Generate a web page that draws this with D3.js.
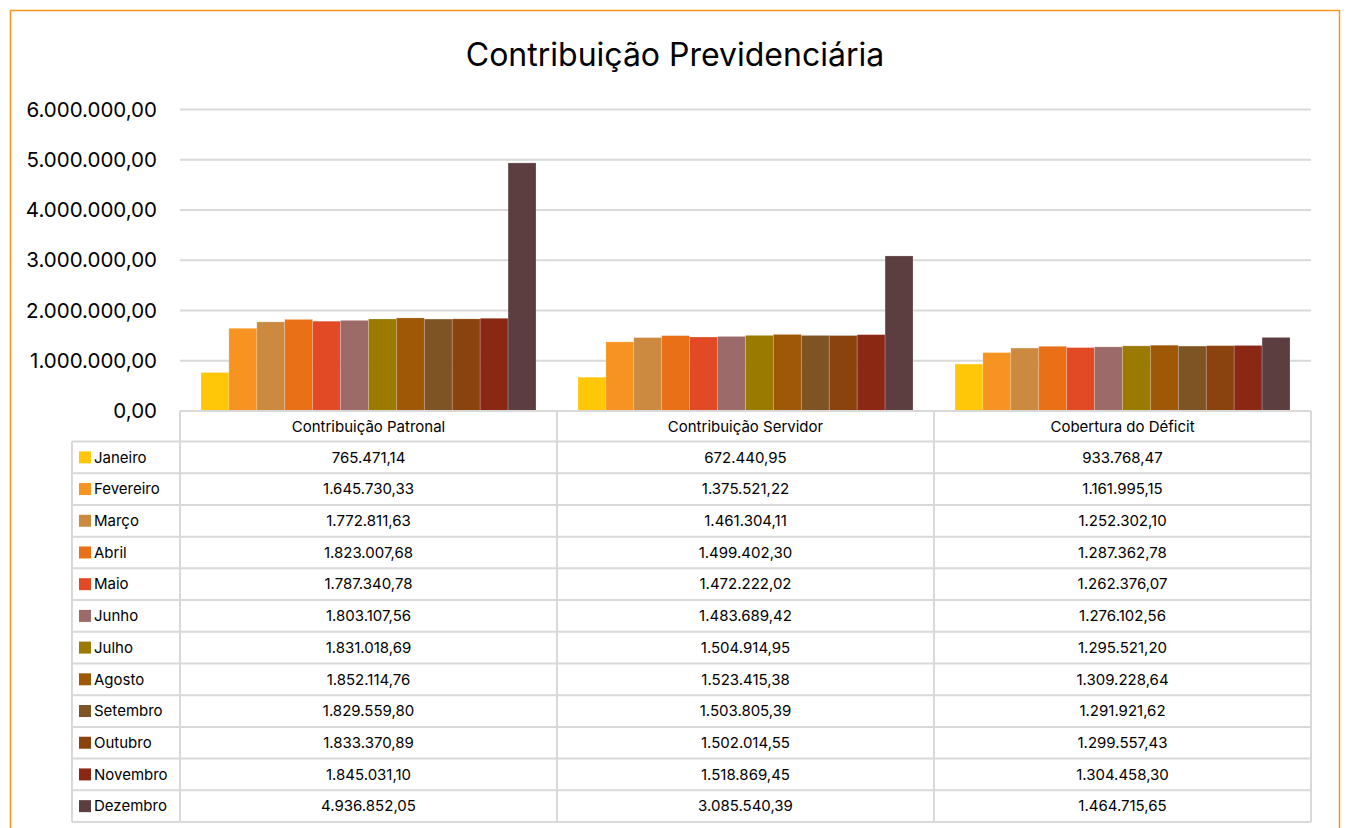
<!DOCTYPE html>
<html>
<head>
<meta charset="utf-8">
<script src="https://cdn.jsdelivr.net/npm/d3@7"></script>
<style>
html,body{margin:0;padding:0;background:#fff;}
svg{display:block;}
</style>
</head>
<body>
<svg id="chart" width="1346" height="828"></svg>
<script>
const categories = ["Contribuição Patronal", "Contribuição Servidor", "Cobertura do Déficit"];
const months = ["Janeiro","Fevereiro","Março","Abril","Maio","Junho","Julho","Agosto","Setembro","Outubro","Novembro","Dezembro"];
const patronal = [765471.14,1645730.33,1772811.63,1823007.68,1787340.78,1803107.56,1831018.69,1852114.76,1829559.80,1833370.89,1845031.10,4936852.05];
const servidor = [672440.95,1375521.22,1461304.11,1499402.30,1472222.02,1483689.42,1504914.95,1523415.38,1503805.39,1502014.55,1518869.45,3085540.39];
const deficit = [933768.47,1161995.15,1252302.10,1287362.78,1262376.07,1276102.56,1295521.20,1309228.64,1291921.62,1299557.43,1304458.30,1464715.65];
const colors = ["#FFC708","#F79421","#CB8A40","#E97016","#E24A26","#9C6A68","#9B7A00","#9F5806","#7F5424","#8B430D","#8B2814","#5D3E40"];
const yTicks = [0,1000000,2000000,3000000,4000000,5000000,6000000];

(function(){
const series = [patronal, servidor, deficit];
const loc = d3.formatLocale({decimal:",", thousands:".", grouping:[3], currency:["R$",""]});
const fmt = loc.format(",.2f");

const svg = d3.select("#chart");
const font = "Inter, 'Noto Sans', sans-serif";

svg.append("rect").attr("x",10.5).attr("y",10.5).attr("width",1329).attr("height",830)
  .attr("fill","#fff").attr("stroke","#F7941D").attr("stroke-width",1.5);

svg.append("text").attr("x",675).attr("y",66).attr("text-anchor","middle")
  .attr("font-family",font).attr("font-size",32).attr("fill","#000")
  .text("Contribuição Previdenciária");

const pLeft = 180, pRight = 1311, pTop = 109.5, pBottom = 411;
const x0 = d3.scaleBand().domain(categories).range([pLeft, pRight]).padding(0);
const x1 = d3.scaleBand().domain(months).range([21, x0.bandwidth()-21]).padding(0);
const y = d3.scaleLinear().domain([0,6000000]).range([pBottom, pTop]);

svg.append("g").selectAll("line").data(yTicks).join("line")
  .attr("x1",pLeft).attr("x2",pRight)
  .attr("y1",d=>y(d)).attr("y2",d=>y(d))
  .attr("stroke","#d9d9d9").attr("stroke-width",2);

const yAxis = d3.axisLeft(y).tickValues(yTicks).tickFormat(fmt).tickSize(0).tickPadding(0);
const ya = svg.append("g").attr("transform",`translate(157,0)`).call(yAxis);
ya.select(".domain").remove();
ya.selectAll("text").attr("font-family",font).attr("font-size",20.5).attr("fill","#000");

const groups = svg.append("g").selectAll("g").data(categories).join("g")
  .attr("transform",d=>`translate(${x0(d)},0)`);
groups.selectAll("rect").data((c,ci)=>months.map((m,mi)=>({m, mi, v: series[ci][mi]}))).join("rect")
  .attr("x",d=>x1(d.m)).attr("width",x1.bandwidth())
  .attr("y",d=>y(d.v)).attr("height",d=>y(0)-y(d.v))
  .attr("fill",d=>colors[d.mi])
  .attr("stroke","rgba(255,255,255,0.25)").attr("stroke-width",0.75);

const tableLeft = 72, headerTop = 411, rowsTop = 441.5, rowsBottom = 822;
const yr = d3.scaleBand().domain(months).range([rowsTop, rowsBottom]);
const tg = svg.append("g");
const lineColor = "#d9d9d9";

tg.selectAll("text.hdr").data(categories).join("text").attr("class","hdr")
  .attr("x",d=>x0(d)+x0.bandwidth()/2).attr("y",(headerTop+rowsTop)/2).attr("dy","0.35em")
  .attr("text-anchor","middle").attr("font-family",font).attr("font-size",15).attr("fill","#000")
  .text(d=>d);

tg.append("line").attr("x1",pLeft).attr("x2",pRight).attr("y1",headerTop).attr("y2",headerTop)
  .attr("stroke",lineColor).attr("stroke-width",2);
const hl = months.map(m=>yr(m)).concat([rowsBottom]);
tg.selectAll("line.h").data(hl).join("line").attr("class","h")
  .attr("x1",tableLeft).attr("x2",pRight).attr("y1",d=>d).attr("y2",d=>d)
  .attr("stroke",lineColor).attr("stroke-width",2);
tg.selectAll("line.v").data(categories.map(c=>x0(c)).concat([pRight])).join("line").attr("class","v")
  .attr("x1",d=>d).attr("x2",d=>d).attr("y1",headerTop).attr("y2",rowsBottom)
  .attr("stroke",lineColor).attr("stroke-width",2);
tg.append("line").attr("x1",tableLeft).attr("x2",tableLeft).attr("y1",rowsTop).attr("y2",rowsBottom)
  .attr("stroke",lineColor).attr("stroke-width",2);

const rows = tg.selectAll("g.row").data(months).join("g").attr("class","row")
  .attr("transform",d=>`translate(0,${yr(d)+yr.bandwidth()/2})`);
rows.append("rect").attr("x",79).attr("y",-6).attr("width",12).attr("height",12)
  .attr("fill",(d,i)=>colors[i]);
rows.append("text").attr("x",94).attr("dy","0.35em").attr("font-family",font).attr("font-size",15)
  .attr("fill","#000").text(d=>d);
rows.each(function(m,mi){
  d3.select(this).selectAll("text.val").data(categories).join("text").attr("class","val")
    .attr("x",c=>x0(c)+x0.bandwidth()/2).attr("dy","0.35em").attr("text-anchor","middle")
    .attr("font-family",font).attr("font-size",15).attr("fill","#000")
    .text((c,ci)=>fmt(series[ci][mi]));
});
})();
</script>
</body>
</html>
